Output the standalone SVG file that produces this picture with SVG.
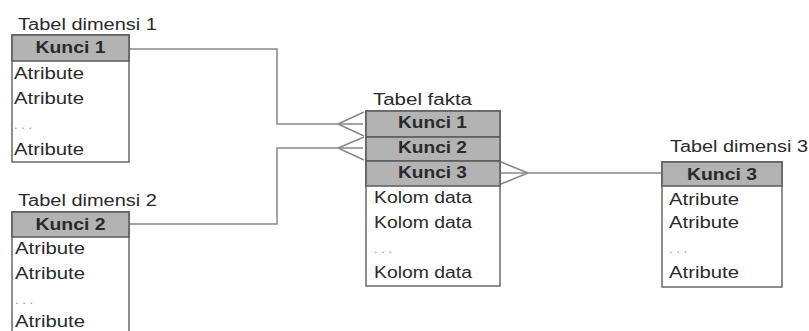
<svg xmlns="http://www.w3.org/2000/svg" width="809" height="331" viewBox="0 0 809 331">
<style>
text{font-family:"Liberation Sans",Arial,sans-serif;font-size:16px;fill:#2a2a2a}
.h{font-weight:bold;text-anchor:middle}
.dots{fill:#999;font-size:13px}
.box{fill:#fff;stroke:#6a6a6a;stroke-width:1.5}
.hd{fill:#b3b3b3;stroke:#5a5a5a;stroke-width:1.5}
.ln{fill:none;stroke:#888;stroke-width:1.5}
</style>
<rect width="809" height="331" fill="#fff"/>
<g id="connectors">
<path class="ln" d="M129,49 H277 V124 H363"/>
<path class="ln" d="M338,124 L364,112 M338,124 L364,136"/>
<path class="ln" d="M129,224 H277 V148 H363"/>
<path class="ln" d="M338,148 L364,137 M338,148 L364,160"/>
<path class="ln" d="M501,173 H662"/>
<path class="ln" d="M528,173 L501,162 M528,173 L501,184"/>
</g>
<g id="dim1">
<text x="18" y="30" textLength="139" lengthAdjust="spacingAndGlyphs">Tabel dimensi 1</text>
<rect class="box" x="12" y="35" width="117" height="127"/>
<rect class="hd" x="12" y="35" width="117" height="26"/>
<text class="h" x="70.5" y="53" textLength="70" lengthAdjust="spacingAndGlyphs">Kunci 1</text>
<text x="14" y="79" textLength="70" lengthAdjust="spacingAndGlyphs">Atribute</text>
<text x="14" y="104" textLength="70" lengthAdjust="spacingAndGlyphs">Atribute</text>
<text class="dots" x="14" y="129">. . .</text>
<text x="14" y="155" textLength="70" lengthAdjust="spacingAndGlyphs">Atribute</text>
</g>
<g id="dim2">
<text x="18" y="206" textLength="139" lengthAdjust="spacingAndGlyphs">Tabel dimensi 2</text>
<rect class="box" x="12" y="212" width="117" height="130"/>
<rect class="hd" x="12" y="212" width="117" height="25"/>
<text class="h" x="70.5" y="230" textLength="70" lengthAdjust="spacingAndGlyphs">Kunci 2</text>
<text x="15" y="254" textLength="70" lengthAdjust="spacingAndGlyphs">Atribute</text>
<text x="15" y="279" textLength="70" lengthAdjust="spacingAndGlyphs">Atribute</text>
<text class="dots" x="15" y="304">. . .</text>
<text x="15" y="327" textLength="70" lengthAdjust="spacingAndGlyphs">Atribute</text>
</g>
<g id="fakta">
<text x="373" y="105" textLength="99" lengthAdjust="spacingAndGlyphs">Tabel fakta</text>
<rect class="box" x="366" y="111" width="134" height="175"/>
<rect class="hd" x="366" y="111" width="134" height="26"/>
<rect class="hd" x="366" y="137" width="134" height="24"/>
<rect class="hd" x="366" y="161" width="134" height="25"/>
<text class="h" x="432.5" y="128" textLength="69" lengthAdjust="spacingAndGlyphs">Kunci 1</text>
<text class="h" x="432.5" y="153" textLength="69" lengthAdjust="spacingAndGlyphs">Kunci 2</text>
<text class="h" x="432.5" y="178" textLength="69" lengthAdjust="spacingAndGlyphs">Kunci 3</text>
<text x="374" y="203" textLength="98" lengthAdjust="spacingAndGlyphs">Kolom data</text>
<text x="374" y="228" textLength="98" lengthAdjust="spacingAndGlyphs">Kolom data</text>
<text class="dots" x="374" y="253">. . .</text>
<text x="374" y="278" textLength="98" lengthAdjust="spacingAndGlyphs">Kolom data</text>
</g>
<g id="dim3">
<text x="670" y="152" textLength="138" lengthAdjust="spacingAndGlyphs">Tabel dimensi 3</text>
<rect class="box" x="662" y="162" width="120" height="125"/>
<rect class="hd" x="662" y="162" width="120" height="24"/>
<text class="h" x="722" y="180" textLength="70" lengthAdjust="spacingAndGlyphs">Kunci 3</text>
<text x="669" y="205" textLength="70" lengthAdjust="spacingAndGlyphs">Atribute</text>
<text x="669" y="228" textLength="70" lengthAdjust="spacingAndGlyphs">Atribute</text>
<text class="dots" x="669" y="253">. . .</text>
<text x="669" y="278" textLength="70" lengthAdjust="spacingAndGlyphs">Atribute</text>
</g>
</svg>
